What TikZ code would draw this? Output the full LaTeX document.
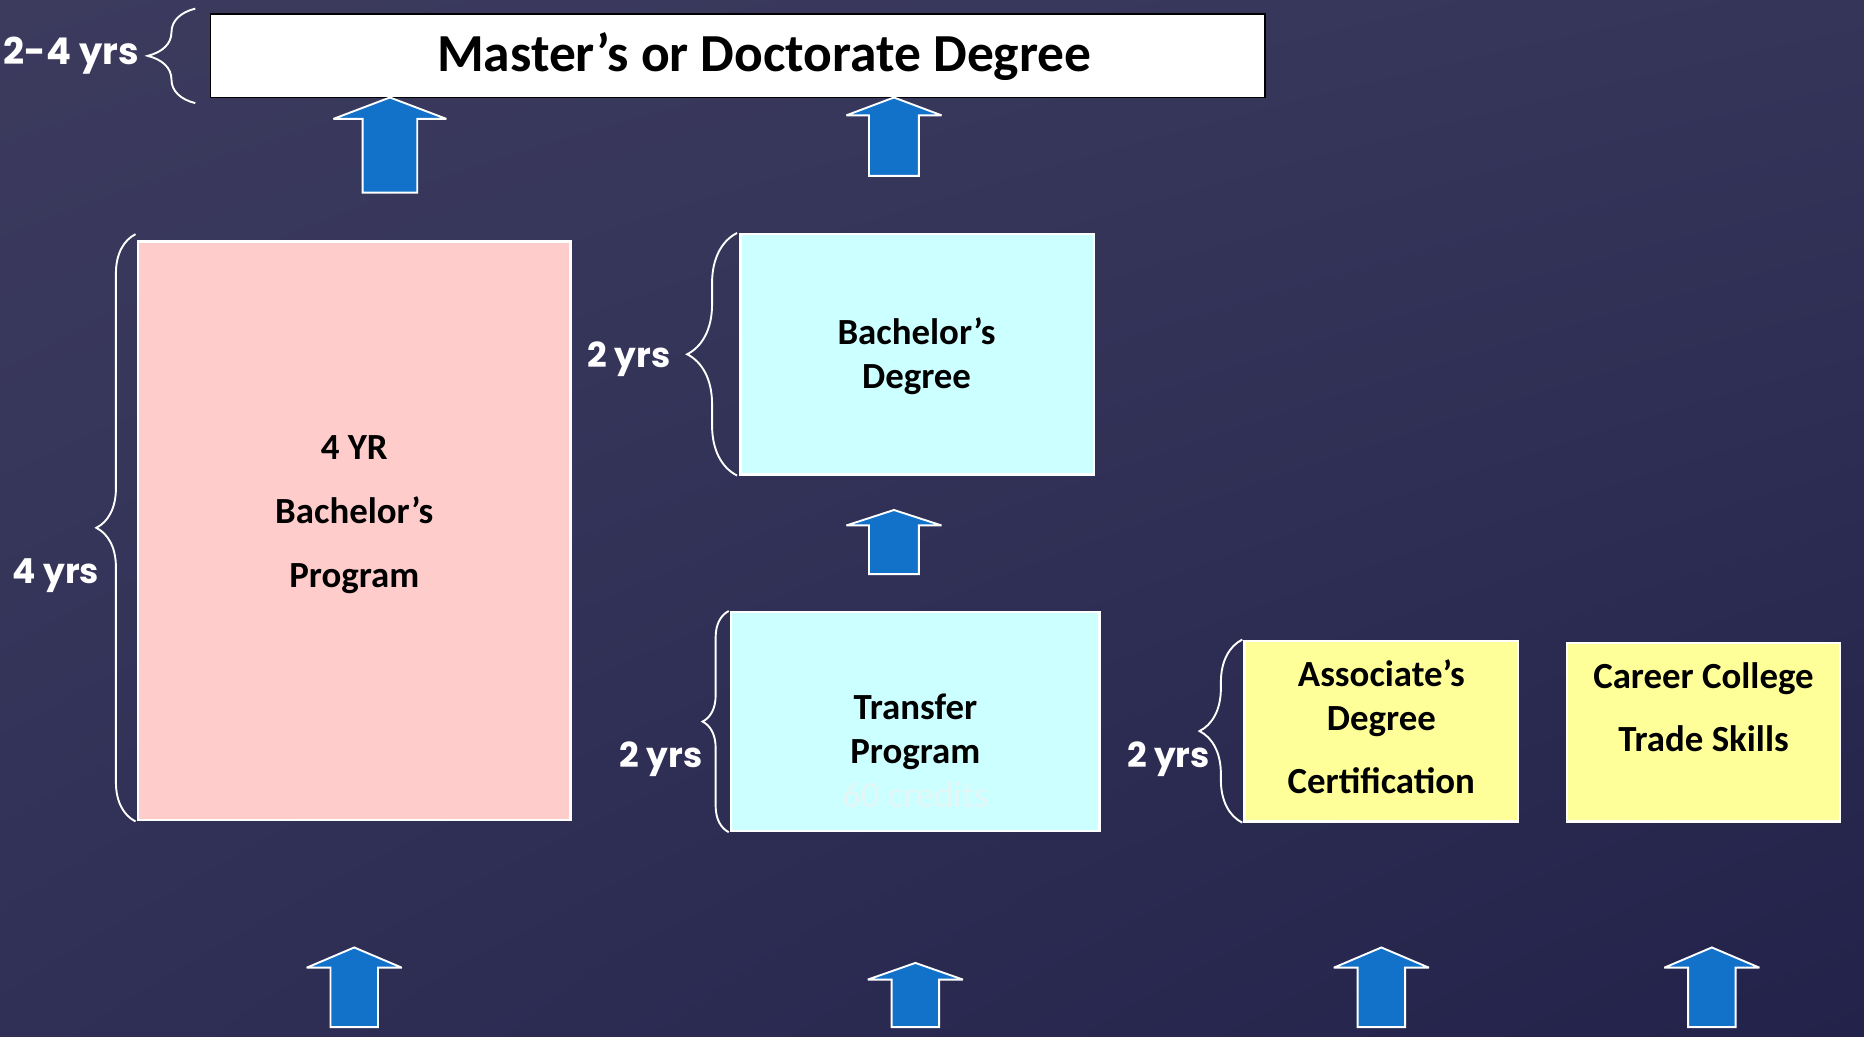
\documentclass[tikz,border=0pt]{standalone}
\usepackage{fontspec}
\setmainfont{Carlito}
\newfontfamily\yrsfont{Poppins}
\usetikzlibrary{positioning, decorations.pathreplacing, shadings}

\definecolor{slatetop}{HTML}{3C3B5E}
\definecolor{slatemid}{HTML}{35355A}
\definecolor{slatelow}{HTML}{303057}
\definecolor{slatedark}{HTML}{22224A}
\definecolor{pinkfill}{HTML}{FFCCCC}
\definecolor{cyanfill}{HTML}{CCFFFF}
\definecolor{yellowfill}{HTML}{FFFF99}
\definecolor{arrowblue}{HTML}{1271C9}
\definecolor{ghost}{HTML}{E4F7F7}

\begin{document}
\begin{tikzpicture}[x=1pt, y=-1pt,
        boxtext/.style={font=\bfseries\fontsize{31pt}{37pt}\selectfont,
                        align=center, text=black, inner sep=0pt},
        yrs/.style={font=\yrsfont\bfseries\fontsize{29pt}{34pt}\selectfont,
                    text=white, inner sep=0pt},
        yrsbrace/.style={draw=white, line width=1.6pt, decorate,
                         decoration={brace, amplitude=#1}},
        tile/.style={draw=white, line width=2pt, inner sep=0pt},
        uparrow/.style={fill=arrowblue, draw=white, line width=1.6pt,
                        miter limit=2}]

    % background
    \shade[upper left=slatetop, upper right=slatemid,
           lower left=slatelow, lower right=slatedark]
        (0,0) rectangle (1568,872);
    \useasboundingbox (0,0) rectangle (1568,872);

    % top box
    \node[draw=black,
          fill=white,
          line width=1.5pt,
          inner sep=0pt,
          minimum width=887pt,
          minimum height=70pt] (master) at (620.5,47) {};
    \node[boxtext,
          font=\bfseries\fontsize{45pt}{50pt}\selectfont] (mastertxt) at (643,48)
        {Master’s or Doctorate Degree};

    % program boxes
    \node[tile,
          fill=pinkfill,
          minimum width=364pt,
          minimum height=487pt] (fouryr) at (298,446.5) {};
    \node[boxtext] (fouryrtxt) at (298,433)
        {4 YR\\[17pt]Bachelor’s\\[17pt]Program};

    \node[tile,
          fill=cyanfill,
          minimum width=297pt,
          minimum height=202pt] (bach) at (771.5,298) {};
    \node[boxtext] (bachtxt) at (771,300) {Bachelor’s\\Degree};

    \node[tile,
          fill=cyanfill,
          minimum width=310pt,
          minimum height=184pt] (transfer) at (770,607) {};
    \node[boxtext] (transfertxt) at (770,632)
        {Transfer\\Program\\{\mdseries\color{ghost}60 credits}};

    \node[tile,
          fill=yellowfill,
          minimum width=230pt,
          minimum height=152pt] (assoc) at (1162,615) {};
    \node[boxtext] (assoctxt) at (1162,611)
        {Associate’s\\Degree\\[16pt]Certification};

    \node[tile,
          fill=yellowfill,
          minimum width=230pt,
          minimum height=150pt] (career) at (1433,616) {};
    \node[boxtext] (careertxt) at (1433,595)
        {Career College\\[16pt]Trade Skills};

    % braces and years
    \draw[yrsbrace=40pt] ([shift={(-12,4)}]master.south west)
        -- ([shift={(-12,-4)}]master.north west);
    \node[yrs, font=\yrsfont\bfseries\fontsize{31pt}{36pt}\selectfont] (yrsmaster) at (60,47) {2-4 yrs};

    \draw[yrsbrace=33pt] ([xshift=-1pt]fouryr.south west)
        -- ([shift={(-1,-5)}]fouryr.north west);
    \node[yrs] (yrsfour) at (47,484) {4 yrs};

    \draw[yrsbrace=42pt] ([xshift=-2pt]bach.south west)
        -- ([xshift=-2pt]bach.north west);
    \node[yrs] (yrsbach) at (529,302) {2 yrs};

    \draw[yrsbrace=22pt] ([xshift=-1pt]transfer.south west)
        -- ([xshift=-1pt]transfer.north west);
    \node[yrs] (yrstransfer) at (556,639) {2 yrs};

    \draw[yrsbrace=36pt] ([xshift=-1pt]assoc.south west)
        -- ([xshift=-1pt]assoc.north west);
    \node[yrs] (yrsassoc) at (983,639) {2 yrs};

    % block arrows: centre / tip / foot / head half / shaft half / head height
    \foreach \cx/\tip/\foot/\hw/\sw/\hh in {328/82/162/47.5/23/18,
                                            752/82/148/40/21/15,
                                            752/429/483/40/21/13,
                                            298/797/864/40/20/17,
                                            770/810/864/40/20/14,
                                            1162/797/864/40/20/17,
                                            1440/797/864/40/20/17}
        \draw[uparrow] (\cx-\sw,\foot) -- (\cx-\sw,\tip+\hh) -- (\cx-\hw,\tip+\hh)
            -- (\cx,\tip) -- (\cx+\hw,\tip+\hh) -- (\cx+\sw,\tip+\hh)
            -- (\cx+\sw,\foot) -- cycle;
\end{tikzpicture}
\end{document}
